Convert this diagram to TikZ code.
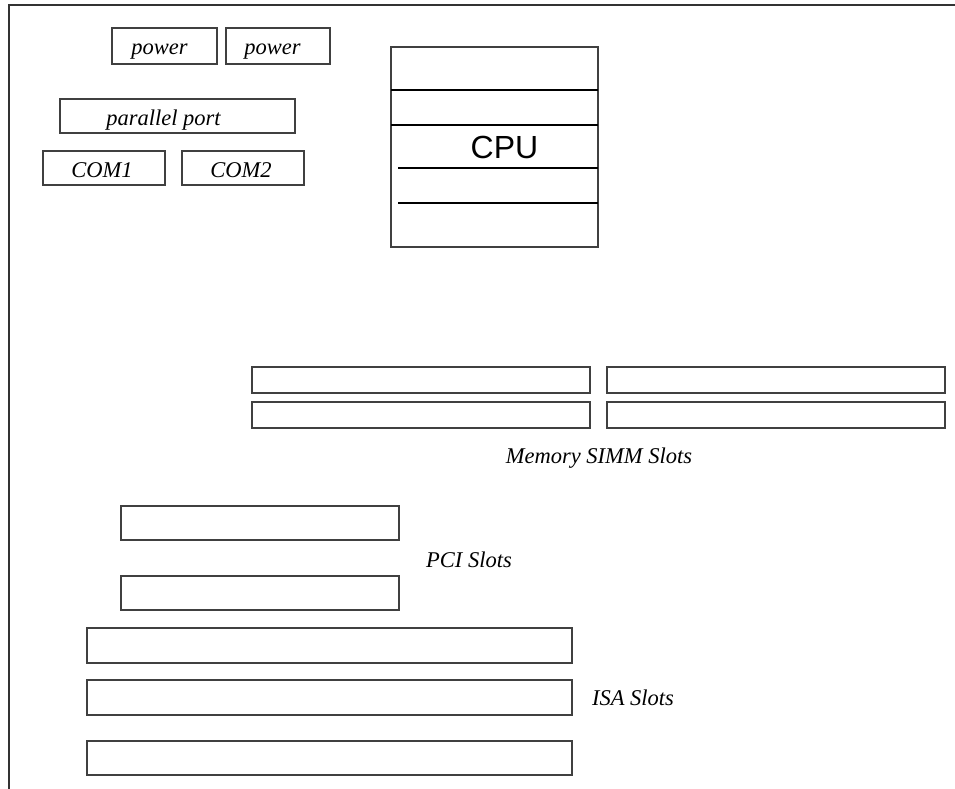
\documentclass[tikz,border=0pt]{standalone}
\usepackage{fontspec}
\setmainfont{Liberation Serif}
\newfontfamily\cpufont{Liberation Sans}
\tikzset{
  slot/.style={draw=black!75, line width=1.4pt, rectangle, inner sep=0pt},
  tag/.style={font=\itshape\fontsize{22.5}{26}\selectfont, inner sep=0pt},
  porttext/.style={tag, text height=18pt, text depth=0pt}
}
\begin{document}
\begin{tikzpicture}[x=1pt,y=-1pt]
    \useasboundingbox (0,0) rectangle (955,789);
    % board edge
    \draw[line width=1.5pt, black!80] (955,5) -- (9,5) -- (9,789);
    % connectors at the top left
    \node[slot, minimum width=105pt, minimum height=36pt] (pwrA) at (164.5,46) {};
    \node[slot, minimum width=104pt, minimum height=36pt] (pwrB) at (278,46) {};
    \node[slot, minimum width=235pt, minimum height=34pt] (par) at (177.5,116) {};
    \node[slot, minimum width=122pt, minimum height=34pt] (comA) at (104,168) {};
    \node[slot, minimum width=122pt, minimum height=34pt] (comB) at (243,168) {};
    \node[porttext] (pwrAtxt) at ([xshift=-5pt]pwrA) {power};
    \node[porttext] (pwrBtxt) at ([xshift=-5.5pt]pwrB) {power};
    \node[porttext] (partxt) at ([xshift=-14pt]par) {parallel port};
    \node[porttext] (comAtxt) at ([xshift=-2pt]comA) {COM1};
    \node[porttext] (comBtxt) at ([xshift=-2pt]comB) {COM2};
    % CPU socket
    \draw[line width=1.4pt, black!75] (391,47) rectangle (598,247);
    \draw[line width=1.2pt] (391,90) -- (598,90);
    \draw[line width=1.2pt] (391,125) -- (598,125);
    \draw[line width=1.2pt] (398,168) -- (598,168);
    \draw[line width=1.2pt] (398,203) -- (598,203);
    \node[font=\cpufont\fontsize{32}{36}\selectfont, inner sep=0pt] (cpu) at (504.5,147) {CPU};
    % memory
    \foreach \y/\n in {380/1,415/2} {
        \node[slot, minimum width=338pt, minimum height=26pt] (memL\n) at (421,\y) {};
        \node[slot, minimum width=338pt, minimum height=26pt] (memR\n) at (776,\y) {};
    }
    \node[tag] (memlbl) at (599,458) {Memory SIMM Slots};
    % PCI
    \node[slot, minimum width=278pt, minimum height=34pt] (pci1) at (260,523) {};
    \node[slot, minimum width=278pt, minimum height=34pt] (pci2) at (260,593) {};
    \node[tag] (pcilbl) at (469,560) {PCI Slots};
    % ISA
    \node[slot, minimum width=485pt, minimum height=35pt] (isa1) at (329.5,645.5) {};
    \node[slot, minimum width=485pt, minimum height=35pt] (isa2) at (329.5,697.5) {};
    \node[slot, minimum width=485pt, minimum height=34pt] (isa3) at (329.5,758) {};
    \node[tag] (isalbl) at (633,698) {ISA Slots};
\end{tikzpicture}
\end{document}
